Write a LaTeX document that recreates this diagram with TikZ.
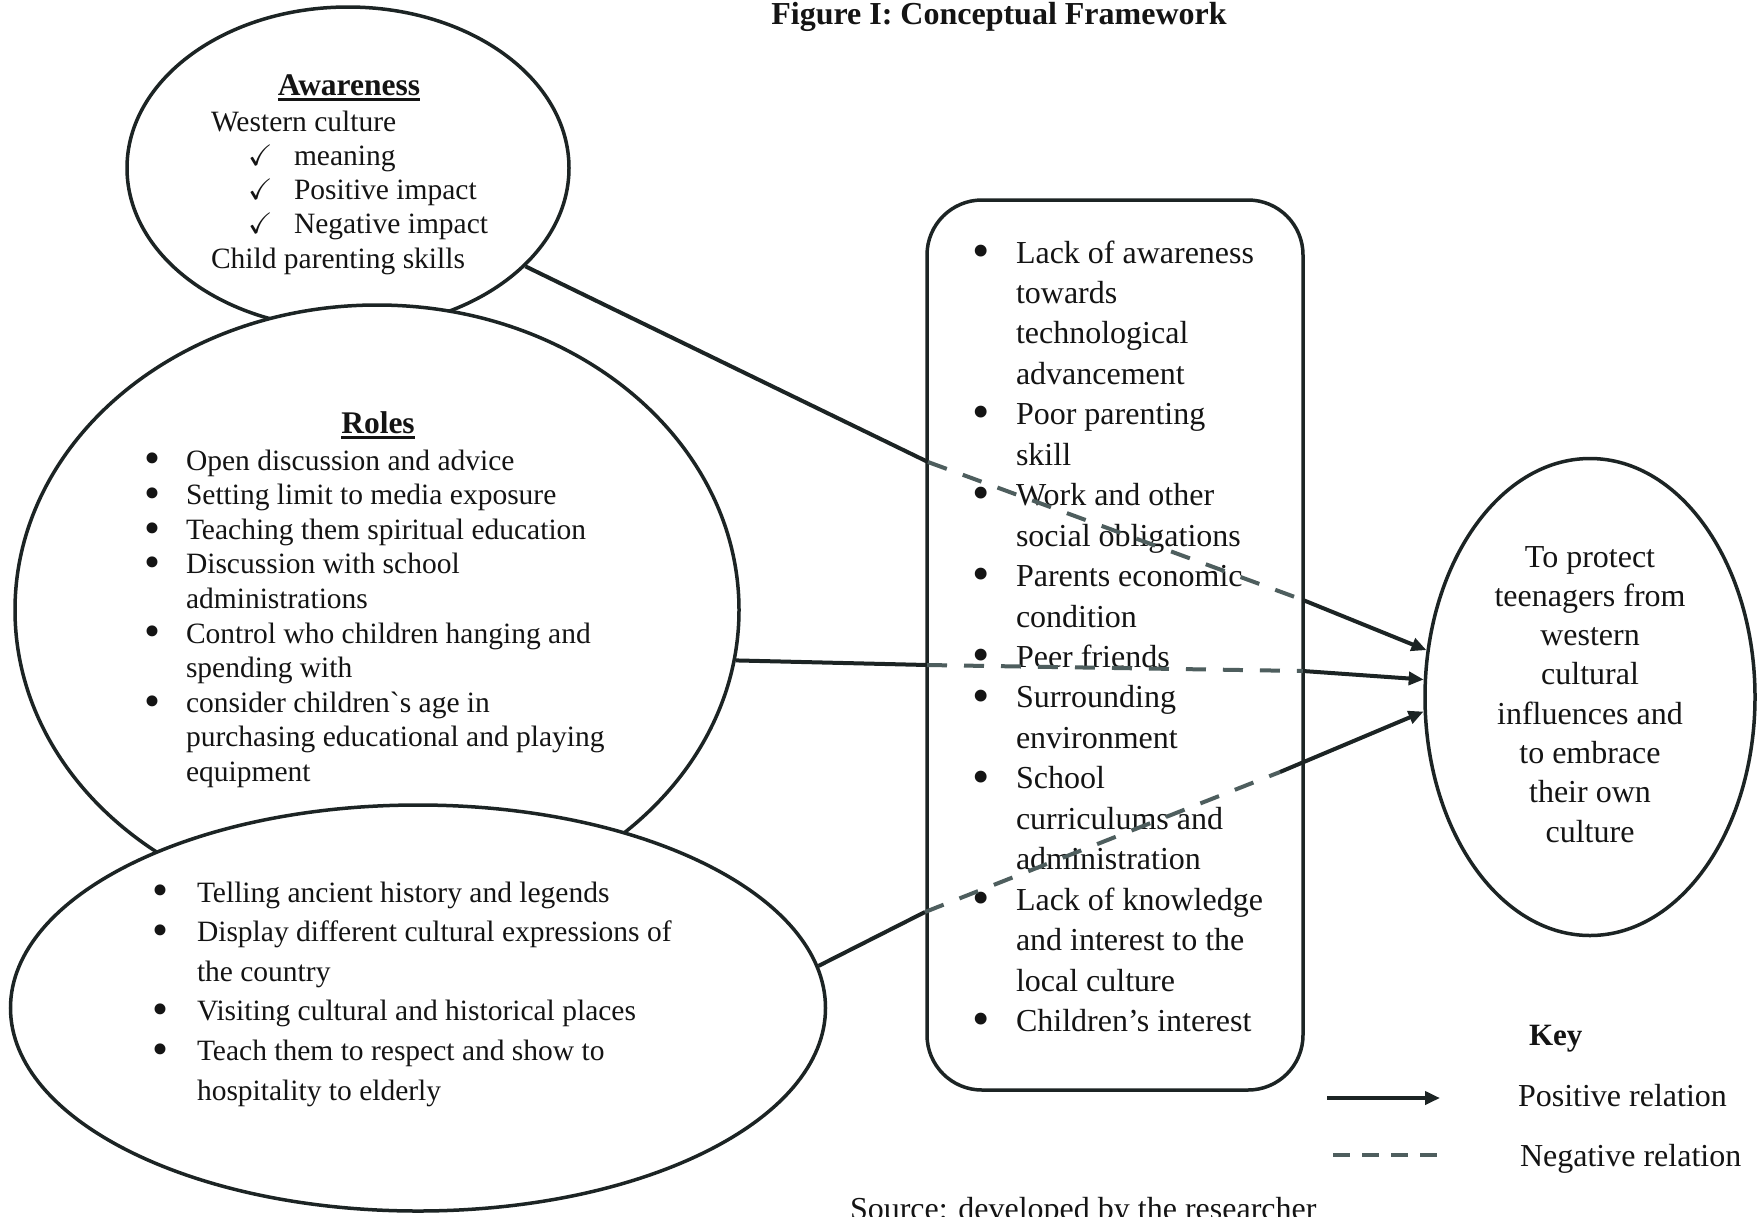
\documentclass[tikz,border=0pt]{standalone}
\usepackage{fontspec}
\usepackage{amssymb}
\setmainfont{Liberation Serif}
\usetikzlibrary{shapes.geometric,arrows.meta}
\definecolor{inkdark}{RGB}{28,36,36}
\definecolor{dashgray}{RGB}{78,94,94}
\newsavebox\hdbox
\newcommand\hdline[1]{\sbox\hdbox{#1}\rlap{\rule[-6pt]{\wd\hdbox}{2.8pt}}\usebox\hdbox}
\newcommand\bul{\raisebox{-0.13em}{\scalebox{1.55}{\textbullet}}}

\begin{document}
\begin{tikzpicture}[x=1pt, y=-1pt,
	bubble/.style={ellipse, draw=inkdark, line width=3.5pt, fill=white, inner sep=0pt},
	roundbox/.style={rectangle, rounded corners=55pt, draw=inkdark, line width=3.5pt, fill=white, inner sep=0pt},
	txt/.style={inner sep=0pt, outer sep=0pt, text=black!92},
	joinlink/.style={draw=inkdark, line width=4pt},
	poslink/.style={joinlink, -{Triangle[length=15pt,width=13pt]}},
	neglink/.style={draw=dashgray, line width=4pt, dash pattern=on 20pt off 17pt}]
			%%%%% START %%%%%
			\useasboundingbox[fill=white] (0,0) rectangle (1761,1216);

			\node[txt, anchor=base] (title) at (999,24) {\fontsize{32}{38}\selectfont\bfseries Figure I: Conceptual Framework};

			% awareness
			\node[bubble, minimum width=442pt, minimum height=322pt] (aware) at (348,168) {};
			\node[txt, anchor=base] (awaretitle) at (349,95) {\fontsize{31.5}{36}\selectfont\bfseries\hdline{Awareness}};
			\node[txt, anchor=base west] (awaretext) at (211,131) {\fontsize{29.5}{34.25}\selectfont
				\begin{tabular}[t]{@{}l@{}}
				Western culture\\
				\hspace*{37pt}\makebox[46pt][l]{$\checkmark$}meaning\\
				\hspace*{37pt}\makebox[46pt][l]{$\checkmark$}Positive impact\\
				\hspace*{37pt}\makebox[46pt][l]{$\checkmark$}Negative impact\\
				Child parenting skills
				\end{tabular}};

			% roles
			\node[bubble, minimum width=724pt, minimum height=610pt] (roles) at (377,610) {};
			\node[txt, anchor=base] (rolestitle) at (378,433) {\fontsize{31.5}{36}\selectfont\bfseries\hdline{Roles}};
			\node[txt, anchor=base west] (rolestext) at (144,470) {\fontsize{29.5}{34.6}\selectfont
				\begin{tabular}[t]{@{}p{42pt}@{}l@{}}
				\bul & Open discussion and advice\\
				\bul & Setting limit to media exposure\\
				\bul & Teaching them spiritual education\\
				\bul & Discussion with school\\
				 & administrations\\
				\bul & Control who children hanging and\\
				 & spending with\\
				\bul & consider children\textasciigrave s age in\\
				 & purchasing educational and playing\\
				 & equipment
				\end{tabular}};

			% heritage
			\node[bubble, minimum width=815pt, minimum height=406pt] (heritage) at (418,1008) {};
			\node[txt, anchor=base west] (heritagetext) at (152,902) {\fontsize{29.5}{39.6}\selectfont
				\begin{tabular}[t]{@{}p{45pt}@{}l@{}}
				\bul & Telling ancient history and legends\\
				\bul & Display different cultural expressions of\\
				 & the country\\
				\bul & Visiting cultural and historical places\\
				\bul & Teach them to respect and show to\\
				 & hospitality to elderly
				\end{tabular}};

			% factors
			\node[roundbox, minimum width=376pt, minimum height=890pt] (factors) at (1115,645) {};
			\node[txt, anchor=base west] (factortext) at (972,263) {\fontsize{32}{40.45}\selectfont
				\begin{tabular}[t]{@{}p{44pt}@{}l@{}}
				\bul & Lack of awareness\\
				 & towards\\
				 & technological\\
				 & advancement\\
				\bul & Poor parenting\\
				 & skill\\
				\bul & Work and other\\
				 & social obligations\\
				\bul & Parents economic\\
				 & condition\\
				\bul & Peer friends\\
				\bul & Surrounding\\
				 & environment\\
				\bul & School\\
				 & curriculums and\\
				 & administration\\
				\bul & Lack of knowledge\\
				 & and interest to the\\
				 & local culture\\
				\bul & Children’s interest
				\end{tabular}};

			% goal
			\node[bubble, minimum width=330pt, minimum height=477pt] (goal) at (1590,697) {};
			\node[txt, anchor=base] (goaltext) at (1590,567) {\fontsize{32}{39.3}\selectfont
				\begin{tabular}[t]{@{}c@{}}
				To protect\\
				teenagers from\\
				western\\
				cultural\\
				influences and\\
				to embrace\\
				their own\\
				culture
				\end{tabular}};

			% links
			\coordinate (a1) at (928,462);
			\coordinate (a2) at (1303,600);
			\draw[joinlink] (aware.-29) -- (a1);
			\draw[neglink] (a1) -- (a2);
			\draw[poslink] (a2) -- (goal.164);

			\coordinate (r1) at (927,665);
			\coordinate (r2) at (1303,671);
			\draw[joinlink] (roles.-8) -- (r1);
			\draw[neglink] (r1) -- (r2);
			\draw[poslink] (r2) -- (goal.174);

			\coordinate (h1) at (925,912);
			\coordinate (h2) at (1280,772);
			\draw[joinlink] (heritage.6) -- (h1);
			\draw[neglink] (h1) -- (h2);
			\draw[poslink] (h2) -- (goal.-175);

			% key
			\node[txt, anchor=base west] (key) at (1529,1045) {\fontsize{31}{36}\selectfont\bfseries Key};
			\node[txt, anchor=base west] (keypos) at (1518,1106) {\fontsize{32}{38}\selectfont Positive relation};
			\node[txt, anchor=base west] (keyneg) at (1520,1166) {\fontsize{32}{38}\selectfont Negative relation};
			\coordinate (kp1) at (1327,1098);
			\coordinate (kp2) at (1440,1098);
			\draw[poslink] (kp1) -- (kp2);
			\coordinate (kn1) at (1333,1155);
			\coordinate (kn2) at (1437,1155);
			\draw[neglink, dash pattern=on 17pt off 12pt] (kn1) -- (kn2);

			\node[txt, anchor=base west] (source) at (850,1219) {\fontsize{32}{38}\selectfont Source: developed by the researcher};
			%%%%% END %%%%%
\end{tikzpicture}
\end{document}
